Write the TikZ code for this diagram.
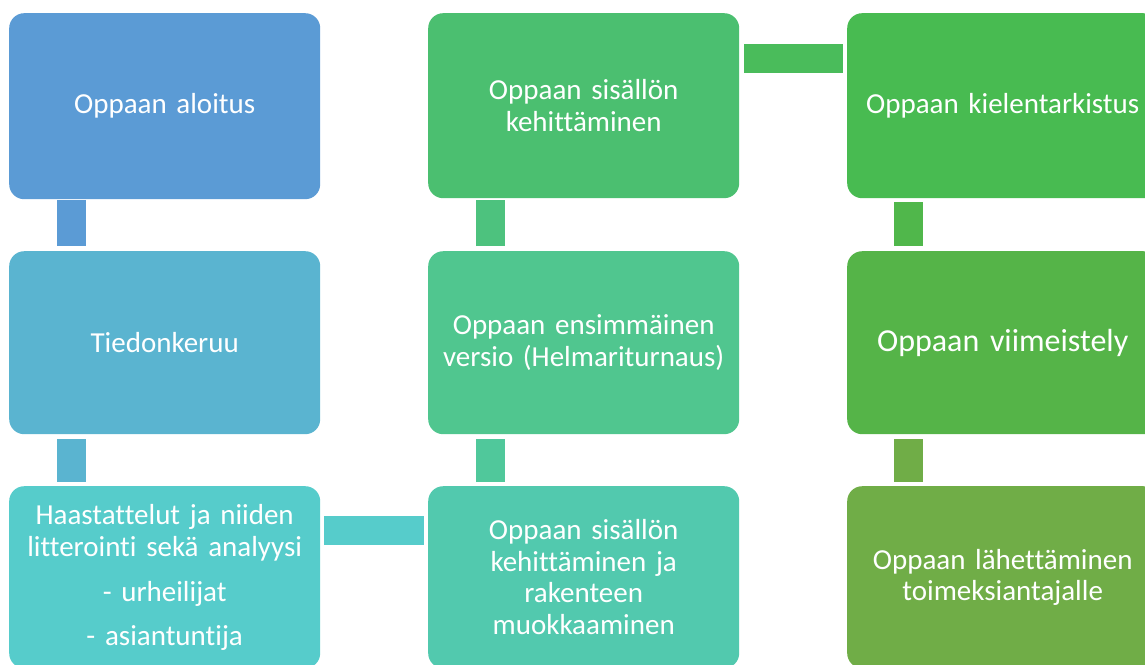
\documentclass[tikz,border=0pt]{standalone}
\usepackage{fontspec}
\setmainfont{Carlito}[Ligatures=CommonOff]
\usetikzlibrary{calc}

% process step colours
\definecolor{cA}{HTML}{5B9BD5}
\definecolor{cB}{HTML}{5AB4D0}
\definecolor{cC}{HTML}{56CCCB}
\definecolor{cD}{HTML}{52C9AE}
\definecolor{cE}{HTML}{50C68F}
\definecolor{cF}{HTML}{4BBF70}
\definecolor{cG}{HTML}{48BB51}
\definecolor{cH}{HTML}{55B448}
\definecolor{cI}{HTML}{70AD47}
% link bar colours
\definecolor{lBC}{HTML}{50C89B}
\definecolor{lEF}{HTML}{4DC27E}
\definecolor{lFG}{HTML}{4ABC5B}
\definecolor{lGH}{HTML}{50B74B}

\tikzset{
  stepbox/.style={rectangle, rounded corners=15pt, fill=#1, draw=none,
    anchor=north west, minimum width=311pt, text width=305pt,
    align=center, text=white, inner sep=0pt,
    font=\fontsize{29}{31.5}\selectfont},
  vlink/.style={draw=#1, line width=29pt, line cap=butt},
  hlink/.style={draw=#1, line width=29pt, line cap=butt},
}

\begin{document}
\begin{tikzpicture}[x=1pt, y=-1pt]
  \useasboundingbox (0,0) rectangle (1145,664);

  % column 1
  \node[stepbox=cA, minimum height=186pt] (a) at (9,13) {Oppaan aloitus};
  \node[stepbox=cB, minimum height=183pt] (b) at (9,251) {Tiedonkeruu};
  \node[stepbox=cC, minimum height=182pt] (c) at (9,486)
    {Haastattelut ja niiden\\ litterointi sekä analyysi\\[14pt] - urheilijat\\[12pt] - asiantuntija};

  % column 2
  \node[stepbox=cD, minimum height=182pt] (d) at (428,486)
    {Oppaan sisällön\\ kehittäminen ja\\ rakenteen\\ muokkaaminen};
  \node[stepbox=cE, minimum height=183pt] (e) at (428,251)
    {Oppaan ensimmäinen\\ versio (Helmariturnaus)};
  \node[stepbox=cF, minimum height=185pt] (f) at (428,13)
    {Oppaan sisällön\\ kehittäminen};

  % column 3
  \node[stepbox=cG, minimum height=185pt] (g) at (847,13) {Oppaan kielentarkistus};
  \node[stepbox=cH, minimum height=183pt, font=\fontsize{32}{36}\selectfont] (h) at (847,251) {Oppaan viimeistely};
  \node[stepbox=cI, minimum height=182pt] (i) at (847,486)
    {Oppaan lähettäminen\\ toimeksiantajalle};

  % link bars between consecutive steps
  \draw[vlink=cA] ($(a.south west)+(62.5,1)$) -- ($(b.north west)+(62.5,-5)$);
  \draw[vlink=cB] ($(b.south west)+(62.5,5)$) -- ($(c.north west)+(62.5,-4)$);
  \draw[hlink=cC] ($(c.north east)+(4,44.5)$) -- ($(d.north west)+(-4,44.5)$);
  \draw[vlink=lBC] ($(d.north west)+(62.5,-4)$) -- ($(e.south west)+(62.5,5)$);
  \draw[vlink=lEF] ($(e.north west)+(62.5,-5)$) -- ($(f.south west)+(62.5,2)$);
  \draw[hlink=lFG] ($(f.north east)+(5,45.5)$) -- ($(g.north west)+(-4,45.5)$);
  \draw[vlink=lGH] ($(g.south west)+(61.5,4)$) -- ($(h.north west)+(61.5,-5)$);
  \draw[vlink=cI] ($(h.south west)+(61.5,5)$) -- ($(i.north west)+(61.5,-4)$);
\end{tikzpicture}
\end{document}
